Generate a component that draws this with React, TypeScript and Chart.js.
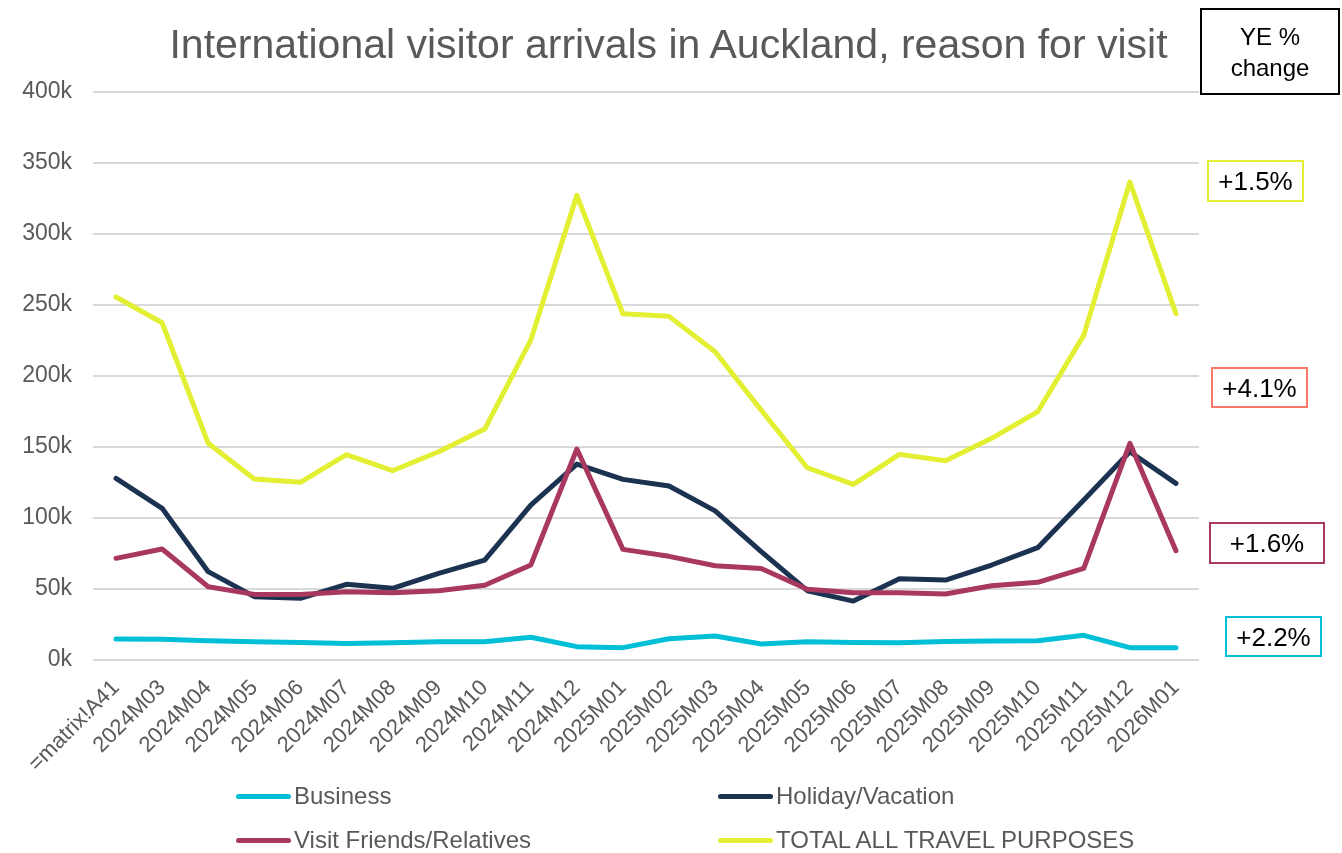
import React, { useEffect, useRef } from 'react';
import { Chart, registerables } from 'chart.js';

Chart.register(...registerables);

const categories = [
  '=matrix!A41', '2024M03', '2024M04', '2024M05', '2024M06', '2024M07', '2024M08', '2024M09',
  '2024M10', '2024M11', '2024M12', '2025M01', '2025M02', '2025M03', '2025M04', '2025M05',
  '2025M06', '2025M07', '2025M08', '2025M09', '2025M10', '2025M11', '2025M12', '2026M01',
];

const business = [
  14800, 14600, 13600, 12900, 12400, 11700, 12200, 12900, 12900, 16000, 9400, 8700,
  15000, 16900, 11300, 12900, 12400, 12200, 13100, 13400, 13600, 17400, 8700, 8700,
];

const holiday = [
  127900, 106800, 62200, 44600, 43400, 53300, 50500, 61000, 70400, 109100, 138000, 127200,
  122500, 105000, 76300, 48800, 41500, 57300, 56300, 66900, 79100, 112700, 146700, 124400,
];

const visitFriends = [
  71600, 78200, 51600, 46200, 46200, 48100, 47400, 48800, 52600, 66900, 148600, 77900,
  73000, 66400, 64500, 49800, 47400, 47400, 46500, 52300, 54700, 64500, 152600, 77000,
];

const totalAll = [
  255600, 237500, 152600, 127400, 125100, 144600, 133300, 146700, 162600, 225300, 327200, 243800,
  242000, 217100, 176000, 135400, 123700, 144800, 140300, 156100, 174800, 228800, 336600, 243900,
];

const seriesNames = ['Business', 'Holiday/Vacation', 'Visit Friends/Relatives', 'TOTAL ALL TRAVEL PURPOSES'];
const seriesColors = ['#00BFD6', '#1C3251', '#A8385F', '#E2EF32'];

const yMin = 0;
const yMax = 400000;
const yStep = 50000;

const titleText = 'International visitor arrivals in Auckland, reason for visit';
const changeHeader = ['YE %', 'change'];
const changeLabels = ['+1.5%', '+4.1%', '+1.6%', '+2.2%'];
const changeColors = ['#E2EF32', '#F7786B', '#A8385F', '#00BFD6'];

const FONT = "'Liberation Sans', Arial, sans-serif";
const GREY = '#595959';

const changeBoxes = [
  { left: 1207, top: 160, width: 97, height: 42 },
  { left: 1211, top: 367, width: 97, height: 41 },
  { left: 1209, top: 522, width: 116, height: 42 },
  { left: 1225, top: 616, width: 97, height: 41 },
];

export default function App() {
  const canvasRef = useRef<HTMLCanvasElement | null>(null);

  useEffect(() => {
    if (!canvasRef.current) return;
    const seriesData = [business, holiday, visitFriends, totalAll];
    const orders = [2, 3, 1, 4];
    const chart = new Chart(canvasRef.current, {
      type: 'line',
      data: {
        labels: categories,
        datasets: seriesData.map((d, i) => ({
          label: seriesNames[i],
          data: d,
          borderColor: seriesColors[i],
          backgroundColor: seriesColors[i],
          borderWidth: 5,
          pointRadius: 0,
          pointHoverRadius: 0,
          tension: 0,
          fill: false,
          borderCapStyle: 'round' as const,
          borderJoinStyle: 'round' as const,
          order: orders[i],
        })),
      },
      options: {
        responsive: false,
        animation: false,
        devicePixelRatio: 1,
        layout: { padding: { left: 0, top: 92, right: 143, bottom: 73 } },
        plugins: {
          legend: { display: false },
          title: { display: false },
          tooltip: { enabled: false },
        },
        scales: {
          x: {
            offset: true,
            grid: { display: false, drawTicks: false },
            border: { display: false },
            ticks: {
              autoSkip: false,
              minRotation: 45,
              maxRotation: 45,
              color: GREY,
              font: { family: FONT, size: 22 },
              padding: 15,
            },
            afterFit: (s: any) => {
              s.height = 120;
            },
          },
          y: {
            min: yMin,
            max: yMax,
            grid: { color: '#D9D9D9', lineWidth: 2, drawTicks: false },
            border: { display: false },
            ticks: {
              stepSize: yStep,
              color: GREY,
              font: { family: FONT, size: 23 },
              padding: 21,
              callback: (v: any) => `${Number(v) / 1000}k`,
            },
            afterFit: (s: any) => {
              s.width = 93;
            },
          },
        },
      },
    });
    return () => chart.destroy();
  }, []);

  const legendItems = [
    { name: seriesNames[0], color: seriesColors[0], x: 236, y: 796 },
    { name: seriesNames[1], color: seriesColors[1], x: 718, y: 796 },
    { name: seriesNames[2], color: seriesColors[2], x: 236, y: 840 },
    { name: seriesNames[3], color: seriesColors[3], x: 718, y: 840 },
  ];

  return (
    <div
      style={{
        position: 'absolute',
        left: 0,
        top: 0,
        width: 1342,
        height: 853,
        background: '#fff',
        overflow: 'hidden',
        fontFamily: FONT,
      }}
    >
      <canvas ref={canvasRef} width={1342} height={853} style={{ position: 'absolute', left: 0, top: 0, width: 1342, height: 853 }} />
      <div
        style={{
          position: 'absolute',
          left: 0,
          top: 24,
          width: 1337,
          textAlign: 'center',
          fontSize: 41,
          lineHeight: '41px',
          color: GREY,
          whiteSpace: 'nowrap',
        }}
      >
        {titleText}
      </div>
      <div
        style={{
          position: 'absolute',
          left: 1200,
          top: 8,
          width: 140,
          height: 87,
          boxSizing: 'border-box',
          border: '2px solid #000',
          display: 'flex',
          flexDirection: 'column',
          alignItems: 'center',
          justifyContent: 'center',
          fontSize: 24,
          lineHeight: '31px',
          color: '#000',
        }}
      >
        {changeHeader.map((t) => (
          <div key={t}>{t}</div>
        ))}
      </div>
      {changeLabels.map((t, i) => (
        <div
          key={t + i}
          style={{
            position: 'absolute',
            left: changeBoxes[i].left,
            top: changeBoxes[i].top,
            width: changeBoxes[i].width,
            height: changeBoxes[i].height,
            boxSizing: 'border-box',
            border: `2px solid ${changeColors[i]}`,
            display: 'flex',
            alignItems: 'center',
            justifyContent: 'center',
            fontSize: 26,
            lineHeight: '26px',
            color: '#000',
          }}
        >
          {t}
        </div>
      ))}
      {legendItems.map((it) => (
        <div key={it.name}>
          <div
            style={{
              position: 'absolute',
              left: it.x,
              top: it.y - 2.5,
              width: 55,
              height: 5,
              borderRadius: 3,
              background: it.color,
            }}
          />
          <div
            style={{
              position: 'absolute',
              left: it.x + 58,
              top: it.y - 12,
              fontSize: 24,
              lineHeight: '24px',
              color: GREY,
              whiteSpace: 'nowrap',
            }}
          >
            {it.name}
          </div>
        </div>
      ))}
    </div>
  );
}
